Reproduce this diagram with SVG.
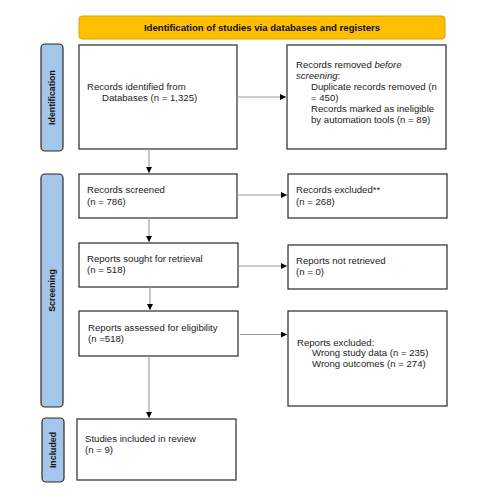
<svg xmlns="http://www.w3.org/2000/svg" width="491" height="504" viewBox="0 0 491 504">
<defs>
<marker id="ah" markerWidth="8" markerHeight="8" refX="6" refY="3" orient="auto" markerUnits="userSpaceOnUse">
<path d="M0,0 L6,3 L0,6 Z" fill="#000"/>
</marker>
<style>
.box{fill:#fff;stroke:#3a3a3a;stroke-width:1.3}
.bar{fill:#a3c6ea;stroke:#2b2b2b;stroke-width:1.2}
.t{font-family:"Liberation Sans",Arial,sans-serif;font-size:9.6px;fill:#222}
.lbl{font-family:"Liberation Sans",Arial,sans-serif;font-size:8.8px;font-weight:bold;fill:#111}
.hd{font-family:"Liberation Sans",Arial,sans-serif;font-size:9.6px;font-weight:bold;fill:#111}
.c{fill:none;stroke:#9a9a9a;stroke-width:1.1;marker-end:url(#ah)}
</style>
</defs>
<rect width="491" height="504" fill="#fff"/>
<g id="header">
<rect x="79" y="16" width="366" height="23" rx="3" fill="#fdbf00" stroke="#d9a400" stroke-width="1"/>
<text class="hd" x="262" y="31.3" text-anchor="middle">Identification of studies via databases and registers</text>
</g>
<g id="bar-identification">
<rect class="bar" x="41" y="44" width="22" height="107" rx="4"/>
<text class="lbl" transform="translate(55,97.5) rotate(-90)" text-anchor="middle">Identification</text>
</g>
<g id="bar-screening">
<rect class="bar" x="41" y="174" width="22" height="233" rx="4"/>
<text class="lbl" transform="translate(55,290.5) rotate(-90)" text-anchor="middle">Screening</text>
</g>
<g id="bar-included">
<rect class="bar" x="42" y="418" width="22" height="64" rx="4"/>
<text class="lbl" transform="translate(56,450) rotate(-90)" text-anchor="middle">Included</text>
</g>
<g id="identified">
<rect class="box" x="79" y="45" width="158" height="104"/>
<text class="t" x="87" y="90">Records identified from</text>
<text class="t" x="102" y="101">Databases (n = 1,325)</text>
</g>
<g id="removed">
<rect class="box" x="287" y="45" width="159" height="104"/>
<text class="t" x="296" y="68">Records removed <tspan font-style="italic">before</tspan></text>
<text class="t" x="296" y="79"><tspan font-style="italic">screening</tspan>:</text>
<text class="t" x="311" y="90">Duplicate records removed (n</text>
<text class="t" x="311" y="101">= 450)</text>
<text class="t" x="311" y="112">Records marked as ineligible</text>
<text class="t" x="311" y="123">by automation tools (n = 89)</text>
</g>
<g id="screened">
<rect class="box" x="79" y="174" width="158" height="44"/>
<text class="t" x="87" y="193">Records screened</text>
<text class="t" x="87" y="204.5">(n = 786)</text>
</g>
<g id="excluded">
<rect class="box" x="288" y="174" width="159" height="44"/>
<text class="t" x="296" y="193">Records excluded**</text>
<text class="t" x="296" y="204.5">(n = 268)</text>
</g>
<g id="sought">
<rect class="box" x="79" y="243" width="159" height="44"/>
<text class="t" x="87" y="262">Reports sought for retrieval</text>
<text class="t" x="87" y="273">(n = 518)</text>
</g>
<g id="notretrieved">
<rect class="box" x="288" y="245" width="159" height="44"/>
<text class="t" x="296" y="263.5">Reports not retrieved</text>
<text class="t" x="296" y="275">(n = 0)</text>
</g>
<g id="assessed">
<rect class="box" x="79" y="311" width="159" height="45"/>
<text class="t" x="88" y="331">Reports assessed for eligibility</text>
<text class="t" x="88" y="342">(n =518)</text>
</g>
<g id="reportsexcluded">
<rect class="box" x="288" y="311" width="159" height="95"/>
<text class="t" x="297" y="345.5">Reports excluded:</text>
<text class="t" x="312" y="356">Wrong study data (n = 235)</text>
<text class="t" x="312" y="367">Wrong outcomes (n = 274)</text>
</g>
<g id="included">
<rect class="box" x="77" y="419" width="159" height="61"/>
<text class="t" x="85" y="442">Studies included in review</text>
<text class="t" x="85" y="453">(n = 9)</text>
</g>
<g id="connectors">
<path class="c" d="M237,97 H286"/>
<path class="c" d="M149,149 V173"/>
<path class="c" d="M237,195 H287"/>
<path class="c" d="M149,218 V242"/>
<path class="c" d="M238,266 H287"/>
<path class="c" d="M150,287 V310"/>
<path class="c" d="M240,334.5 H287"/>
<path class="c" d="M149,356 V418"/>
</g>
</svg>
